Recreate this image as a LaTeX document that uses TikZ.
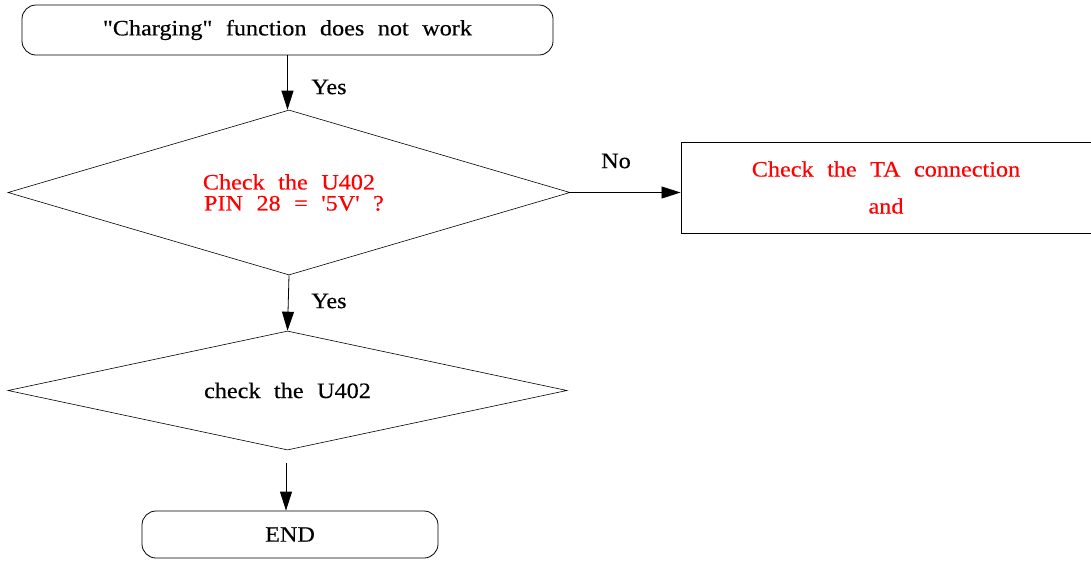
\documentclass[tikz,border=0pt]{standalone}
\usepackage{fontspec}
\newfontfamily\dfont{Liberation Serif}[FakeStretch=1.1, FakeBold=0.4, WordSpace={2.23}]
\usetikzlibrary{shapes.geometric,arrows.meta}
\begin{document}
\begin{tikzpicture}[x=1pt,y=-1pt,
  font=\dfont\fontsize{22}{26}\selectfont,
  term/.style={draw, rectangle, rounded corners=14pt, line width=0.8pt, inner sep=0pt},
  dec/.style={draw, diamond, line width=0.6pt, inner sep=0pt, align=center},
  proc/.style={draw, rectangle, line width=0.9pt, inner sep=0pt, align=center},
  arr/.style={-{Triangle[length=19pt,width=12pt]}, line width=0.8pt},
  lbl/.style={inner sep=0pt}]
\useasboundingbox (0,0) rectangle (1091,560);
\node[term, minimum width=531pt, minimum height=50pt] (start) at (287.5,30) {"Charging" function does not work};
\node[dec, aspect=3.4, minimum width=562pt, minimum height=165pt, text=red,
  font=\dfont\fontsize{22}{21}\selectfont] (d1) at (289,192.5)
  {Check the U402\\\hspace*{0.45em}PIN 28 = '5V' ?};
\node[proc, minimum width=410pt, minimum height=91pt, text=red,
  font=\dfont\fontsize{22}{37}\selectfont] (ta) at (886,187.5)
  {Check the TA connection\\and};
\node[dec, aspect=4.7, minimum width=559pt, minimum height=119pt] (d2) at (287.5,390.5) {check the U402};
\node[term, minimum width=296pt, minimum height=47pt] (end) at (290,534.5) {END};
\coordinate (g) at (286,463);
\draw[arr] (start.south) -- (start.south |- d1.north);
\draw[arr] (d1.east) -- (d1.east -| ta.west);
\draw[arr] (d1.south) -- (d2.north);
\draw[arr] (g) -- (g |- end.north);
\node[lbl] (y1) at (329,87) {Yes};
\node[lbl] (no) at (616,161) {No};
\node[lbl] (y2) at (329,301) {Yes};
\end{tikzpicture}
\end{document}
